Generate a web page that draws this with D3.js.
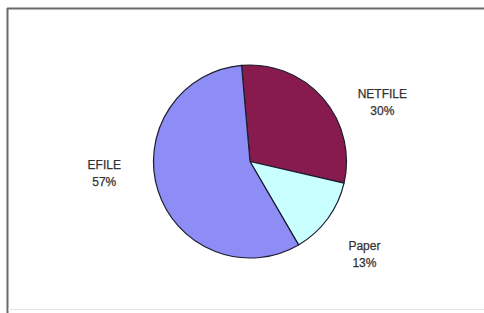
<!DOCTYPE html>
<html>
<head>
<meta charset="utf-8">
<script src="https://cdn.jsdelivr.net/npm/d3@7"></script>
<style>
  html, body { margin: 0; padding: 0; background: #fff; }
  svg { display: block; }
</style>
</head>
<body>
<svg id="chart"></svg>
<script>
'use strict'

// filing method shares (percent)
const categories = ['NETFILE', 'Paper', 'EFILE']
const shares = [30, 13, 57]
const colors = ['#881b4e', '#c9ffff', '#8d8df5']

const width = 484
const height = 313
const cx = 250
const cy = 161.5
const radius = 96.5
const labelRadius = 146
// Excel "best fit" label placement, nudged per slice (degrees)
const labelTurn = [16, 2, 14]

const svg = d3.select('#chart')
  .attr('width', width)
  .attr('height', height)
  .attr('font-family', 'Liberation Sans, Arial, sans-serif')

// chart frame (only top/left really visible, bottom faint)
svg.append('line')
  .attr('x1', 7).attr('x2', width).attr('y1', 8.5).attr('y2', 8.5)
  .attr('stroke', '#6a6a6a').attr('stroke-width', 2)
svg.append('line')
  .attr('x1', 7.5).attr('x2', 7.5).attr('y1', 8).attr('y2', height)
  .attr('stroke', '#6a6a6a').attr('stroke-width', 2)
svg.append('line')
  .attr('x1', 8).attr('x2', width).attr('y1', 309.5).attr('y2', 309.5)
  .attr('stroke', '#e4e4e4').attr('stroke-width', 1)

const data = categories.map((name, i) => ({ name, value: shares[i], color: colors[i], turn: labelTurn[i] }))

const startAngle = -5 * Math.PI / 180
const pie = d3.pie()
  .value(d => d.value)
  .sort(null)
  .startAngle(startAngle)
  .endAngle(startAngle + 2 * Math.PI)

const arc = d3.arc().innerRadius(0).outerRadius(radius)

const g = svg.append('g').attr('transform', `translate(${cx},${cy})`)

const slices = pie(data)

g.selectAll('path')
  .data(slices)
  .enter().append('path')
  .attr('d', arc)
  .attr('fill', d => d.data.color)
  .attr('stroke', '#1c1c30')
  .attr('stroke-width', 1.2)
  .attr('stroke-linejoin', 'round')

const label = g.selectAll('text')
  .data(slices)
  .enter().append('text')
  .attr('text-anchor', 'middle')
  .attr('font-size', 12)
  .attr('fill', '#333')
  .attr('stroke', '#333')
  .attr('stroke-width', 0.25)
  .attr('transform', d => {
    const a = (d.startAngle + d.endAngle) / 2 + d.data.turn * Math.PI / 180
    const [x, y] = d3.pointRadial(a, labelRadius)
    return `translate(${x},${y})`
  })

label.append('tspan')
  .attr('x', 0)
  .attr('y', -2)
  .text(d => d.data.name)

label.append('tspan')
  .attr('x', 0)
  .attr('y', 15)
  .text(d => `${d.data.value}%`)
</script>
</body>
</html>
